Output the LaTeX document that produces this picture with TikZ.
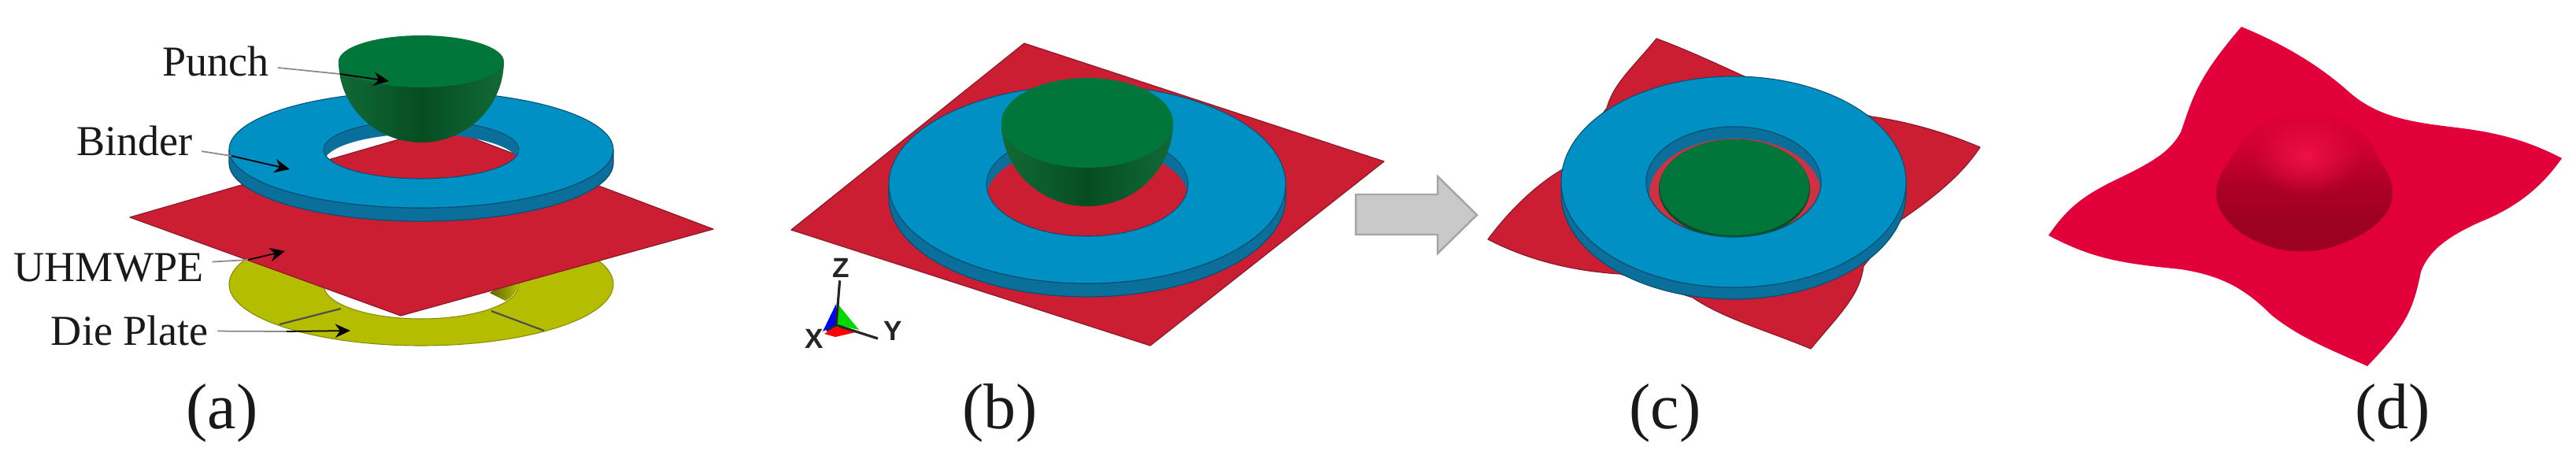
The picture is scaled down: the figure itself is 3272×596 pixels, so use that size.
\documentclass[tikz,border=0pt]{standalone}
\usepackage{fontspec}
\setmainfont{Liberation Serif}
\newfontfamily\axisfont{Liberation Sans}
\usetikzlibrary{arrows.meta,fadings}
\definecolor{sheetred}{HTML}{CB1E33}
\definecolor{sheetedge}{HTML}{8E1A2A}
\definecolor{binderblue}{HTML}{0090C4}
\definecolor{binderside}{HTML}{0B6F9C}
\definecolor{binderedge}{HTML}{0A4F70}
\definecolor{punchtop}{HTML}{00763A}
\definecolor{punchlow}{HTML}{116A36}
\definecolor{punchdark}{HTML}{064D22}
\definecolor{dieyellow}{HTML}{B5BD00}
\definecolor{diedark}{HTML}{868C00}
\definecolor{formred}{HTML}{E2003A}
\definecolor{formlight}{HTML}{EE1048}
\definecolor{formdark}{HTML}{9C0022}
\definecolor{arrowgray}{HTML}{C9C9C9}
\definecolor{arrowedge}{HTML}{A5A5A5}
\definecolor{leadgray}{HTML}{8A8A8A}
\tikzfading[name=softspot,inner color=transparent!0,outer color=transparent!100]
\pgfdeclareverticalshading{domeshade}{100bp}{
  color(0bp)=(formdark);
  color(35bp)=(formdark);
  color(50bp)=(formdark!70!formred);
  color(62bp)=(formdark!25!formred);
  color(75bp)=(formred);
  color(100bp)=(formred!85!formdark)}
\tikzset{
  sheet/.style={fill=sheetred,draw=sheetedge,line width=0.35pt,line join=round},
  partlabel/.style={font=\fontsize{15.4}{18}\selectfont,text=black!90,inner sep=3pt},
  panellabel/.style={font=\fontsize{23.3}{28}\selectfont,text=black!90,inner sep=0pt},
  axislabel/.style={font=\axisfont\bfseries\fontsize{10}{12}\selectfont,text=black!85,inner sep=1pt},
  leadline/.style={draw=leadgray,line width=0.5pt},
  leadtip/.style={draw=black,line width=0.5pt,-{Stealth[length=5.5pt,width=5pt]}},
  axisline/.style={draw=black!85,line width=0.9pt},
  blockarrow/.style={fill=arrowgray,draw=arrowedge,line width=0.7pt,line join=miter}
}
% cx cy rx ry holerx holery thickness
\newcommand{\binderring}[7]{%
  \fill[binderside,draw=binderedge,line width=0.35pt]
    plot[domain=0:180,samples=70] ({#1+#3*cos(\x)},{#2+#7+#4*sin(\x)})
    -- plot[domain=180:0,samples=70] ({#1+#3*cos(\x)},{#2+#4*sin(\x)}) -- cycle;
  \begin{scope}
    \clip (#1,#2) ellipse [x radius=#5,y radius=#6];
    \fill[binderside,even odd rule] (#1,#2) ellipse [x radius=#5+5,y radius=#6+5]
       (#1,#2+#7) ellipse [x radius=#5,y radius=#6];
  \end{scope}
  \fill[binderblue,even odd rule,draw=binderedge,line width=0.3pt]
     (#1,#2) ellipse [x radius=#3,y radius=#4]
     (#1,#2) ellipse [x radius=#5,y radius=#6];
}
% cx rimy rx ry bottom
\newcommand{\punchbody}[5]{%
  \shade[left color=punchlow,right color=punchlow,middle color=punchdark]
    plot[domain=0:180,samples=70] ({#1+#3*cos(\x)},{#2+(#5-#2)*sin(\x)}) -- cycle;
  \fill[punchtop] (#1,#2) ellipse [x radius=#3,y radius=#4];
}
\begin{document}
\begin{tikzpicture}[x=0.01cm,y=-0.01cm]
\useasboundingbox (0,0) rectangle (3272,596);
\fill[white] (0,0) rectangle (3272,596);

%% ---------- panel (a)
\fill[dieyellow,even odd rule,draw=diedark,line width=0.3pt]
   (535,361) ellipse [x radius=244,y radius=78]
   (535,362) ellipse [x radius=124,y radius=43];
\shade[left color=diedark!70!black,right color=dieyellow]
   (622,372) -- (655,350) -- (659,364) .. controls (655,372) and (650,378) .. (642,382) -- cycle;
\draw[black!70,line width=0.6pt] (355,412) -- (433,392);
\draw[black!70,line width=0.6pt] (624,395) -- (691,420);
\filldraw[sheet] (562,161) -- (906,291) -- (509,401) -- (165,276) -- cycle;
\binderring{535}{190}{244}{74}{124}{37}{17}
\punchbody{535}{78}{105}{33}{181}

\coordinate (punchEntry) at (432,94);
\coordinate (punchTip) at (494,103);
\coordinate (binderEntry) at (294,198);
\coordinate (binderTip) at (368,215);
\coordinate (uhmEntry) at (315,330);
\coordinate (uhmTip) at (362,319);
\coordinate (dieEntry) at (364,421);
\coordinate (dieTip) at (445,420);

\node[partlabel] (labPunch) at (274,78) {Punch};
\node[partlabel] (labBinder) at (171,179) {Binder};
\node[partlabel] (labUhm) at (138,340) {UHMWPE};
\node[partlabel] (labDie) at (165,420) {Die Plate};
\draw[leadline] (labPunch) -- (punchEntry);
\draw[leadtip] (punchEntry) -- (punchTip);
\draw[leadline] (labBinder) -- (binderEntry);
\draw[leadtip] (binderEntry) -- (binderTip);
\draw[leadline] (labUhm) -- (uhmEntry);
\draw[leadtip] (uhmEntry) -- (uhmTip);
\draw[leadline] (labDie) -- (dieEntry);
\draw[leadtip] (dieEntry) -- (dieTip);
\node[panellabel] (capA) at (282,525) {(a)};

%% ---------- panel (b)
\filldraw[sheet] (1301,55) -- (1758,205) -- (1461,439) -- (1005,292) -- cycle;
\binderring{1381}{234}{252}{126}{128}{66}{17}
\punchbody{1381}{156}{109}{57}{262}
\node[panellabel] (capB) at (1270,525) {(b)};

% triad
\coordinate (origin) at (1062,413);
\fill[blue] (1062,386) -- (1062,413) -- (1045,421) -- cycle;
\fill[green!85!black] (1064,386) -- (1064,413) -- (1091,419) -- cycle;
\fill[red] (1047,424) -- (1062,415) -- (1091,421) -- (1061,428) -- cycle;
\node[axislabel] (axisZ) at (1068,340) {Z};
\node[axislabel] (axisY) at (1134,420) {Y};
\node[axislabel] (axisX) at (1034,430) {X};
\coordinate (yEnd) at (1115,430);
\draw[axisline] (origin) -- (axisZ);
\draw[axisline] (origin) -- (yEnd);
\draw[axisline] (origin) -- (axisX);

%% ---------- block arrow
\filldraw[blockarrow] (1722,247) -- (1826,247) -- (1826,224) -- (1876,273)
   -- (1826,322) -- (1826,298) -- (1722,298) -- cycle;

%% ---------- panel (c)
\filldraw[sheet] (2104,49)
  .. controls (2150,66) and (2195,88) .. (2240,108)
  -- (2377,148)
  .. controls (2425,155) and (2470,168) .. (2515,187)
  .. controls (2490,225) and (2450,255) .. (2415,279)
  -- (2367,338)
  .. controls (2362,375) and (2340,395) .. (2300,443)
  .. controls (2245,420) and (2190,405) .. (2150,378)
  -- (2058,348)
  .. controls (2010,345) and (1950,335) .. (1890,304)
  .. controls (1915,270) and (1950,235) .. (1985,215)
  -- (2041,137)
  .. controls (2050,105) and (2075,85) .. (2104,49)
  -- cycle;
\binderring{2202}{231}{219}{134}{111}{70}{15}
\begin{scope}
  \clip (2202,231) ellipse [x radius=111,y radius=70];
  \fill[binderside] (2202,231) ellipse [x radius=112,y radius=71];
  \fill[sheetred!92!white] (2204,246) ellipse [x radius=109,y radius=70];
  \fill[punchdark] (2203,240) ellipse [x radius=96,y radius=63];
  \fill[punchtop] (2203,238) ellipse [x radius=95,y radius=61];
\end{scope}
\draw[binderedge,line width=0.3pt] (2202,231) ellipse [x radius=111,y radius=70];
\node[panellabel] (capC) at (2115,525) {(c)};

%% ---------- panel (d)
\fill[formred] (2847,34)
  .. controls (2900,56) and (2945,82) .. (2985,118)
  .. controls (3020,148) and (3060,155) .. (3120,162)
  .. controls (3170,168) and (3210,178) .. (3254,201)
  .. controls (3230,235) and (3200,262) .. (3150,282)
  .. controls (3110,300) and (3085,318) .. (3075,345)
  .. controls (3065,395) and (3055,415) .. (3007,465)
  .. controls (2955,442) and (2920,428) .. (2885,400)
  .. controls (2850,365) and (2820,350) .. (2770,342)
  .. controls (2700,335) and (2660,330) .. (2602,299)
  .. controls (2625,265) and (2645,250) .. (2680,232)
  .. controls (2730,208) and (2755,195) .. (2770,168)
  .. controls (2785,125) and (2790,100) .. (2847,34)
  -- cycle;
\shade[shading=domeshade] plot[smooth cycle,tension=0.7] coordinates
  {(2929,139) (2993,163) (3022,202) (3039,243) (3022,281) (2973,310) (2924,319) (2874,310) (2830,281) (2815,243) (2833,202) (2869,160)};
\fill[formlight,path fading=softspot] (2929,198) ellipse [x radius=70,y radius=50];
\node[panellabel] (capD) at (3039,525) {(d)};
\end{tikzpicture}
\end{document}
